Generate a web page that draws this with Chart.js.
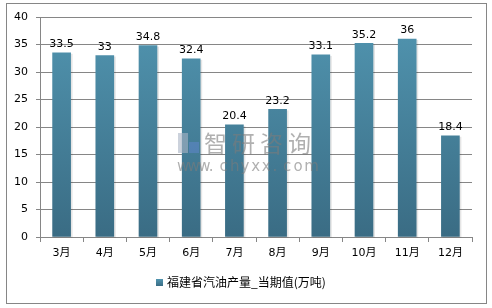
<!DOCTYPE html>
<html>
<head>
<meta charset="utf-8">
<script src="https://cdn.jsdelivr.net/npm/chart.js@4/dist/chart.umd.min.js"></script>
<style>
  html, body { margin: 0; padding: 0; background: #fff; }
  #wrap { width: 492px; height: 308px; position: relative; }
</style>
</head>
<body>
<div id="wrap"><canvas id="c" width="492" height="308"></canvas></div>
<script>
/* 福建省汽油产量 — monthly bar chart */

const months = ['3月', '4月', '5月', '6月', '7月', '8月', '9月', '10月', '11月', '12月'];
const output = [33.5, 33, 34.8, 32.4, 20.4, 23.2, 33.1, 35.2, 36, 18.4];
const seriesName = '福建省汽油产量_当期值(万吨)';
const yTicks = [0, 5, 10, 15, 20, 25, 30, 35, 40];

const FONT = '"DejaVu Sans", "Noto Sans CJK SC", sans-serif';

// Gradient fill per bar, lighter at top
function barFill(ctx) {
  const chart = ctx.chart;
  const area = chart.chartArea;
  if (!area) return '#4a87a2';
  const el = ctx.element;
  const top = el && el.y != null ? el.y : area.top;
  const g = chart.ctx.createLinearGradient(0, top, 0, area.bottom);
  g.addColorStop(0, '#5195b0');
  g.addColorStop(1, '#3a6c84');
  return g;
}

// spaced text for the watermark
function spaced(c, text, x, y, step) {
  for (let i = 0; i < text.length; i++) {
    c.fillText(text[i], x + i * step, y);
  }
}

const extras = {
  id: 'extras',
  beforeDatasetsDraw(chart) {
    // soft shadow behind bars
    const c = chart.ctx;
    const meta = chart.getDatasetMeta(0);
    c.save();
    c.fillStyle = 'rgba(0,0,0,0.10)';
    meta.data.forEach(bar => {
      const w = bar.width;
      c.fillRect(bar.x - w / 2 + 1, bar.y + 1, w + 1, bar.base - bar.y);
    });
    c.restore();
  },
  afterDatasetsDraw(chart) {
    const c = chart.ctx;
    const meta = chart.getDatasetMeta(0);
    c.save();
    c.font = '11px ' + FONT;
    c.fillStyle = '#000';
    c.textAlign = 'center';
    c.textBaseline = 'bottom';
    meta.data.forEach((bar, i) => {
      c.fillText(String(output[i]), bar.x, bar.y - 3);
    });

    // watermark
    c.globalAlpha = 0.6;
    c.fillStyle = '#aab4c4';
    c.fillRect(178, 133, 10, 20);
    c.fillStyle = '#5d86c6';
    c.fillRect(189, 142, 10, 11);
    c.fillStyle = '#7b7b7b';
    c.textAlign = 'left';
    c.textBaseline = 'middle';
    c.font = '23px "Noto Sans CJK SC", sans-serif';
    spaced(c, '智研咨询', 204, 143, 28);
    c.font = '15px ' + FONT;
    spaced(c, 'www.chyxx.com', 177, 167, 10.6);
    c.restore();
  },
  afterDraw(chart) {
    const c = chart.ctx;
    c.save();
    // outer frame
    c.strokeStyle = '#868686';
    c.lineWidth = 1;
    c.strokeRect(6.5, 3.5, 480, 300);
    // legend
    const g = c.createLinearGradient(0, 279, 0, 286);
    g.addColorStop(0, '#5195b0');
    g.addColorStop(1, '#3a6c84');
    c.fillStyle = g;
    c.fillRect(156, 279, 7, 7);
    c.fillStyle = '#000';
    c.font = '12px "Noto Sans CJK SC", sans-serif';
    c.textAlign = 'left';
    c.textBaseline = 'middle';
    c.fillText(seriesName, 167, 282);
    c.restore();
  }
};

new Chart(document.getElementById('c'), {
  type: 'bar',
  data: {
    labels: months,
    datasets: [{
      label: seriesName,
      data: output,
      backgroundColor: barFill,
      borderWidth: 0,
      barThickness: 18,
    }],
  },
  options: {
    responsive: false,
    animation: false,
    layout: { padding: { top: 17, right: 20, left: 0, bottom: 0 } },
    plugins: {
      legend: { display: false },
      tooltip: { enabled: false },
    },
    scales: {
      x: {
        offset: true,
        grid: {
          offset: true,
          drawOnChartArea: false,
          color: '#868686',
          tickLength: 5,
        },
        border: { color: '#868686' },
        ticks: {
          color: '#000',
          font: { family: FONT, size: 11 },
          padding: 5,
          maxRotation: 0,
        },
        afterFit(scale) { scale.height = 71; },
      },
      y: {
        min: 0,
        max: 40,
        afterBuildTicks(scale) { scale.ticks = yTicks.map(v => ({ value: v })); },
        grid: {
          color: '#868686',
          tickLength: 4,
        },
        border: { color: '#868686' },
        ticks: {
          color: '#000',
          font: { family: FONT, size: 11 },
          padding: 8,
        },
        afterFit(scale) { scale.width = 40; },
      },
    },
  },
  plugins: [extras],
});
</script>
</body>
</html>
